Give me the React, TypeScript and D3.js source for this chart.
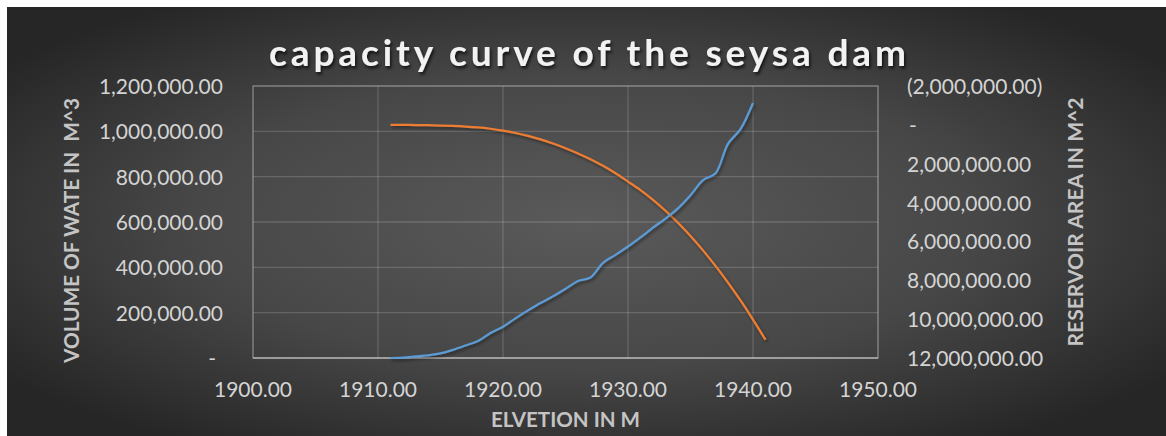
import React from "react";
import * as d3 from "d3";

// Elevation (m) at which each reading was taken
const elevations = [
  1911, 1912, 1913, 1914, 1915, 1916, 1917, 1918, 1919, 1920,
  1921, 1922, 1923, 1924, 1925, 1926, 1927, 1928, 1929, 1930,
  1931, 1932, 1933, 1934, 1935, 1936, 1937, 1938, 1939, 1940, 1941,
];

// Stored volume (m^3), left axis
const volumes = [
  0, 2000, 7000, 12000, 20000, 36000, 55000, 75000, 110000, 138000,
  175000, 210000, 243000, 272000, 305000, 340000, 355000, 420000, 455000, 492000,
  532000, 575000, 615000, 660000, 718000, 785000, 815000, 945000, 1010000, 1125000,
];

// Reservoir surface area (m^2), right axis (reversed)
const areas = [
  0, 5000, 10000, 20000, 35000, 55000, 85000, 130000, 200000, 295000,
  420000, 570000, 750000, 960000, 1200000, 1470000, 1770000, 2110000, 2490000, 2920000,
  3360000, 3860000, 4420000, 5040000, 5720000, 6460000, 7260000, 8120000, 9040000, 10020000, 11060000,
];

const xTicks = [1900, 1910, 1920, 1930, 1940, 1950];
const leftTicks = [0, 200000, 400000, 600000, 800000, 1000000, 1200000];
const rightTicks = [-2000000, 0, 2000000, 4000000, 6000000, 8000000, 10000000, 12000000];

const TITLE = "capacity curve of the seysa dam";
const X_TITLE = "ELVETION IN M";
const LEFT_TITLE = "VOLUME OF WATE IN  M^3";
const RIGHT_TITLE = "RESERVOIR AREA IN M^2";

const W = 1166;
const H = 436;
const plot = { left: 253, right: 878, top: 86, bottom: 358 };

const fmt = d3.format(",.2f");
const fmtX = d3.format(".2f");
const acct = (v: number) => (v === 0 ? "-" : v < 0 ? `(${fmt(-v)})` : fmt(v));

export default function App() {
  const x = d3.scaleLinear().domain([1900, 1950]).range([plot.left, plot.right]);
  const yL = d3.scaleLinear().domain([0, 1200000]).range([plot.bottom, plot.top]);
  const yR = d3.scaleLinear().domain([-2000000, 12000000]).range([plot.top, plot.bottom]);

  const curve = d3.curveCatmullRom.alpha(0.5);
  const volPath = d3
    .line<number>()
    .x((_, i) => x(elevations[i]))
    .y((v) => yL(v))
    .curve(curve)(volumes) as string;
  const areaPath = d3
    .line<number>()
    .x((_, i) => x(elevations[i]))
    .y((v) => yR(v))
    .curve(curve)(areas) as string;

  const font = "Lato, 'Open Sans', sans-serif";
  const tickColor = "#d4d4d4";
  const titleColor = "#c4c4c4";

  return (
    <svg
      width={W}
      height={H}
      style={{ position: "absolute", left: 0, top: 0, display: "block" }}
      fontFamily={font}
    >
      <defs>
        <radialGradient id="bg" cx="0.5" cy="0.5" r="0.62">
          <stop offset="0" stopColor="#5a5a5a" />
          <stop offset="0.55" stopColor="#474747" />
          <stop offset="1" stopColor="#262626" />
        </radialGradient>
        <filter id="lineShadow" x="-10%" y="-10%" width="120%" height="120%">
          <feDropShadow dx="1.5" dy="2" stdDeviation="1.6" floodColor="#000" floodOpacity="0.45" />
        </filter>
        <filter id="titleShadow" x="-5%" y="-30%" width="110%" height="160%">
          <feDropShadow dx="1.5" dy="2.5" stdDeviation="1.8" floodColor="#000" floodOpacity="0.7" />
        </filter>
      </defs>

      <rect x={0} y={0} width={W} height={H} fill="#ffffff" />
      <rect x={7} y={7} width={W - 7} height={H - 7} fill="url(#bg)" />

      {/* gridlines */}
      <g stroke="#ffffff" strokeOpacity={0.16} strokeWidth={1.3}>
        {xTicks.map((t) => (
          <line key={`gx${t}`} x1={x(t)} x2={x(t)} y1={plot.top} y2={plot.bottom} />
        ))}
        {leftTicks.map((t) => (
          <line key={`gy${t}`} x1={plot.left} x2={plot.right} y1={yL(t)} y2={yL(t)} />
        ))}
      </g>
      <rect
        x={plot.left}
        y={plot.top}
        width={plot.right - plot.left}
        height={plot.bottom - plot.top}
        fill="none"
        stroke="#ffffff"
        strokeOpacity={0.22}
        strokeWidth={1.5}
      />
      <line
        x1={plot.left}
        x2={plot.right}
        y1={plot.bottom}
        y2={plot.bottom}
        stroke="#ffffff"
        strokeOpacity={0.4}
        strokeWidth={1.5}
      />

      {/* series */}
      <path d={areaPath} fill="none" stroke="#ed7d31" strokeWidth={2.25} filter="url(#lineShadow)" />
      <path d={volPath} fill="none" stroke="#5b9bd5" strokeWidth={2.25} filter="url(#lineShadow)" />

      {/* title */}
      <text
        x={587.5}
        y={66}
        textAnchor="middle"
        fontSize={37}
        fontWeight={700}
        fill="#f2f2f2"
        textLength={637}
        lengthAdjust="spacing"
        filter="url(#titleShadow)"
      >
        {TITLE}
      </text>

      {/* x axis labels */}
      <g fontSize={21} fill={tickColor} textAnchor="middle">
        {xTicks.map((t) => (
          <text key={`xt${t}`} x={x(t)} y={397}>
            {fmtX(t)}
          </text>
        ))}
      </g>

      {/* left axis labels */}
      <g fontSize={21} fill={tickColor} textAnchor="end">
        {leftTicks.map((t) => (
          <text key={`lt${t}`} x={t === 0 ? 216 : 223} y={yL(t) + 8}>
            {acct(t)}
          </text>
        ))}
      </g>

      {/* right axis labels */}
      <g fontSize={21} fill={tickColor} textAnchor="start">
        {rightTicks.map((t) => (
          <text key={`rt${t}`} x={t === 0 ? 909 : 907} y={yR(t) + 8}>
            {acct(t)}
          </text>
        ))}
      </g>

      {/* axis titles */}
      <text
        x={565.5}
        y={427}
        textAnchor="middle"
        fontSize={20}
        fontWeight={700}
        fill={titleColor}
        textLength={149}
        lengthAdjust="spacingAndGlyphs"
      >
        {X_TITLE}
      </text>
      <text
        transform="translate(78.5,230.5) rotate(-90)"
        textAnchor="middle"
        fontSize={20}
        fontWeight={700}
        fill={titleColor}
        textLength={265}
        lengthAdjust="spacingAndGlyphs"
        style={{ whiteSpace: "pre" }}
      >
        {LEFT_TITLE}
      </text>
      <text
        transform="translate(1082.5,222) rotate(-90)"
        textAnchor="middle"
        fontSize={20}
        fontWeight={700}
        fill={titleColor}
        textLength={249}
        lengthAdjust="spacingAndGlyphs"
      >
        {RIGHT_TITLE}
      </text>
    </svg>
  );
}
